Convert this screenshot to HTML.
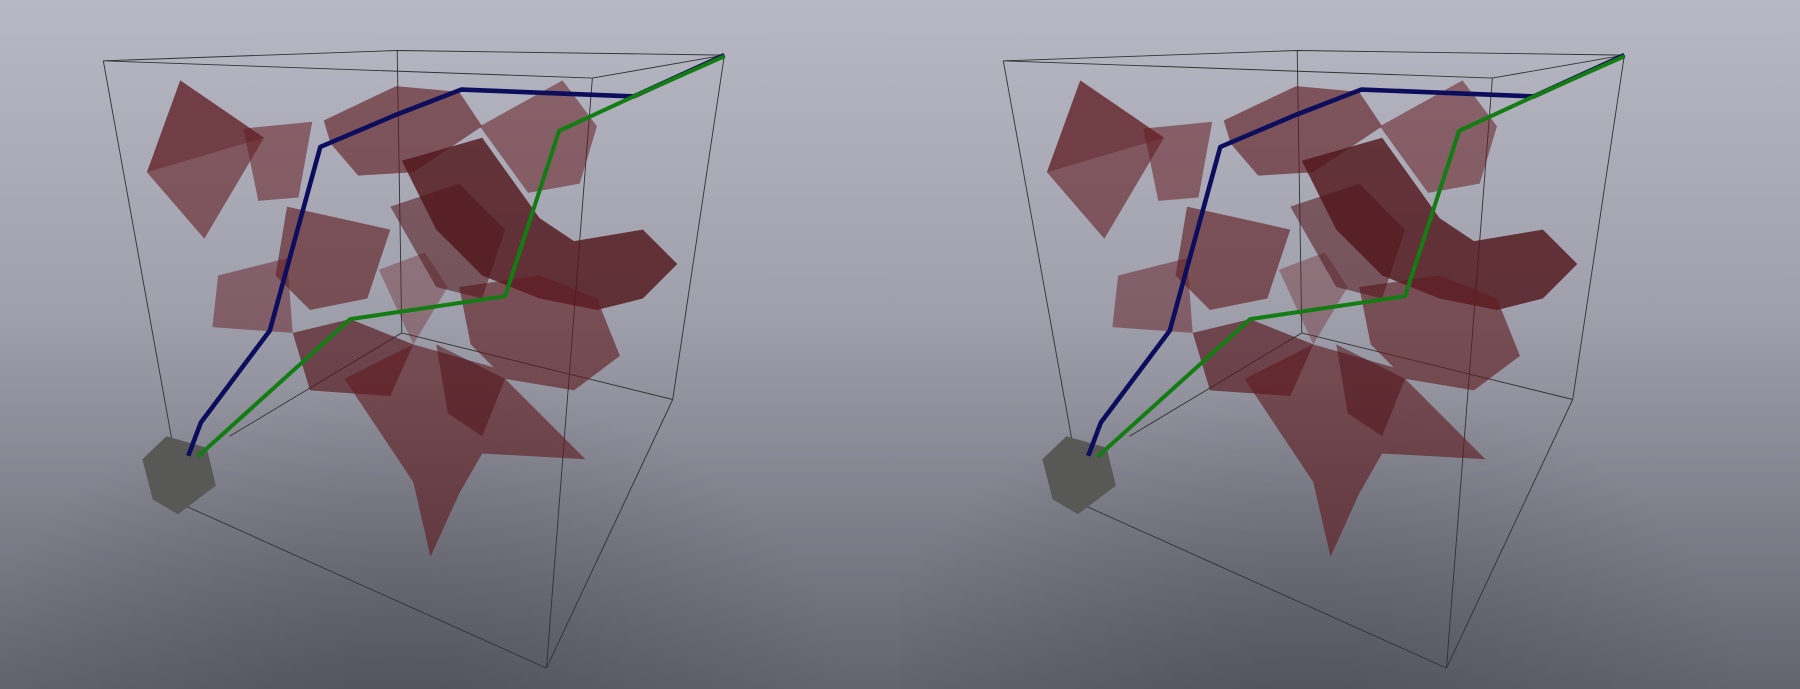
<!DOCTYPE html>
<html><head><meta charset="utf-8"><style>
html,body{margin:0;padding:0;width:1800px;height:689px;overflow:hidden}
svg{display:block}
</style></head><body>
<svg width="1800" height="689" viewBox="0 0 1800 689">
<defs>
<linearGradient id="bg" x1="0" y1="0" x2="0" y2="1">
<stop offset="0" stop-color="#b8b8c4"/><stop offset="0.45" stop-color="#a0a0ac"/><stop offset="1" stop-color="#64646f"/>
</linearGradient>
<radialGradient id="shade" cx="0.45" cy="1.05" r="0.5">
<stop offset="0" stop-color="#3c3c46" stop-opacity="0.45"/><stop offset="1" stop-color="#3c3c46" stop-opacity="0"/>
</radialGradient>
<g id="scene">
<g fill="none" stroke="#333" stroke-width="0.8">
<polyline points="90,53 346,44 631,48 516,68 90,53"/>
<line x1="90" y1="53" x2="160" y2="440"/>
<line x1="160" y1="440" x2="476" y2="582"/>
<line x1="516" y1="68" x2="476" y2="582"/>
<line x1="631" y1="48" x2="586" y2="348"/>
<line x1="586" y1="348" x2="476" y2="582"/>
<line x1="346" y1="44" x2="350" y2="290"/>
<line x1="350" y1="290" x2="586" y2="348"/>
<line x1="350" y1="290" x2="200" y2="380"/>
</g>
<g stroke="none">
<polygon points="157,70 230,120 178,208 128,150" fill="rgba(100,30,35,0.6)"/>
<polygon points="157,70 230,120 128,150" fill="rgba(90,25,30,0.4)"/>
<polygon points="212,112 272,106 260,172 225,175" fill="rgba(100,30,35,0.55)"/>
<polygon points="282,105 345,75 400,80 420,110 360,150 312,153 288,125" fill="rgba(95,28,33,0.62)"/>
<polygon points="418,110 490,70 520,110 505,160 460,168" fill="rgba(100,30,35,0.55)"/>
<polygon points="350,140 420,120 470,190 500,210 560,200 590,230 560,260 520,270 470,260 420,240 380,200" fill="rgba(80,20,25,0.8)"/>
<polygon points="250,180 340,200 320,260 270,270 240,240" fill="rgba(95,28,33,0.62)"/>
<polygon points="190,240 250,225 255,290 185,285" fill="rgba(100,30,35,0.5)"/>
<polygon points="330,235 370,220 390,250 360,300" fill="rgba(110,40,45,0.4)"/>
<polygon points="400,250 470,240 520,260 540,310 500,340 440,330 410,300" fill="rgba(95,28,33,0.62)"/>
<polygon points="255,290 305,278 360,300 340,345 270,340" fill="rgba(85,22,28,0.65)"/>
<polygon points="300,330 360,300 430,320 510,400 420,395 400,430 375,485 360,420" fill="rgba(95,28,33,0.62)"/>
<polygon points="340,180 400,160 440,200 420,260 380,250" fill="rgba(80,20,25,0.55)"/>
<polygon points="380,300 440,330 420,380 390,360" fill="rgba(80,20,25,0.55)"/>
</g>
<polygon points="145,380 180,390 188,423 155,448 133,435 124,400" fill="#585856"/>
<polyline points="164,397 175,368 235,288 279,128 345,100 402,78 552,84 631,48" fill="none" stroke="#0d0d5e" stroke-width="4" stroke-linejoin="round"/>
<polyline points="172,398 305,278 440,258 487,114 552,84 631,49" fill="none" stroke="#137d13" stroke-width="3.5" stroke-linejoin="round"/>
</g>
</defs>
<rect width="1800" height="689" fill="url(#bg)"/>
<rect width="900" height="689" fill="url(#shade)"/>
<rect x="900" width="900" height="689" fill="url(#shade)"/>
<g transform="scale(1.148)"><use href="#scene"/></g>
<g transform="translate(900,0) scale(1.148)"><use href="#scene"/></g>
</svg>
</body></html>
